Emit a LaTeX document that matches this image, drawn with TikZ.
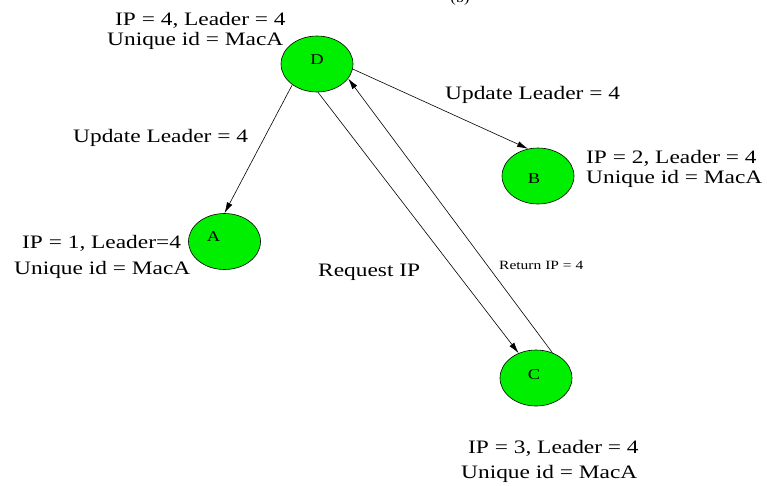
\documentclass[tikz,border=0pt]{standalone}
\usepackage{fontspec}
\setmainfont{Liberation Serif}[FakeStretch=1.23]
\usetikzlibrary{shapes.geometric,arrows.meta}
\definecolor{nodegreen}{RGB}{0,238,0}
\tikzset{
  host/.style={ellipse, draw, fill=nodegreen, minimum width=72pt, minimum height=56pt, inner sep=0pt, line width=0.6pt},
  info/.style={anchor=base west, inner sep=0pt, font=\fontsize{19}{20}\selectfont},
  small/.style={anchor=base west, inner sep=0pt, font=\fontsize{12.6}{14}\selectfont},
  letter/.style={font=\fontsize{15}{16}\selectfont, inner sep=0pt},
  link/.style={-{Latex[length=11pt,width=6pt]}, line width=0.6pt},
}
\begin{document}
\begin{tikzpicture}[x=1pt,y=-1pt]
\useasboundingbox (0,0) rectangle (767,485);
\clip (0,0) rectangle (767,485);
\node[anchor=base, inner sep=0pt, font=\fontsize{13}{14}\selectfont] (cap) at (460,2) {(b)};

\node[host, label={[letter, yshift=4pt]center:D}] (D) at (317,64) {};
\node[host, label={[letter, xshift=-11pt, yshift=4.5pt]center:A}] (A) at (224.5,241.5) {};
\node[host, label={[letter, xshift=-4pt, yshift=-3pt]center:B}] (B) at (538,176) {};
\node[host, label={[letter, xshift=-2pt, yshift=3pt]center:C}] (C) at (536,378) {};

\node[info] (d1) at (115,25) {IP = 4, Leader = 4};
\node[info] (d2) at (107,45) {Unique id = MacA};
\node[info] (a1) at (22,248) {IP = 1, Leader=4};
\node[info] (a2) at (14,274) {Unique id = MacA};
\node[info] (b1) at (586,163) {IP = 2, Leader = 4};
\node[info] (b2) at (586,183) {Unique id = MacA};
\node[info] (c1) at (468,453) {IP = 3, Leader = 4};
\node[info] (c2) at (461,478) {Unique id = MacA};

\node[info] (m1) at (73,142) {Update Leader = 4};
\node[info] (m2) at (445,99) {Update Leader = 4};
\node[info] (m3) at (318,276) {Request IP};
\node[small] (m4) at (499,269) {Return IP = 4};

\draw[link] (D.220) -- (A.90);
\draw[link] (D.352) -- (B.110);
\draw[link] (D.272) -- (C.125);
\draw[link] (C.57) -- (D.335);
\end{tikzpicture}
\end{document}
